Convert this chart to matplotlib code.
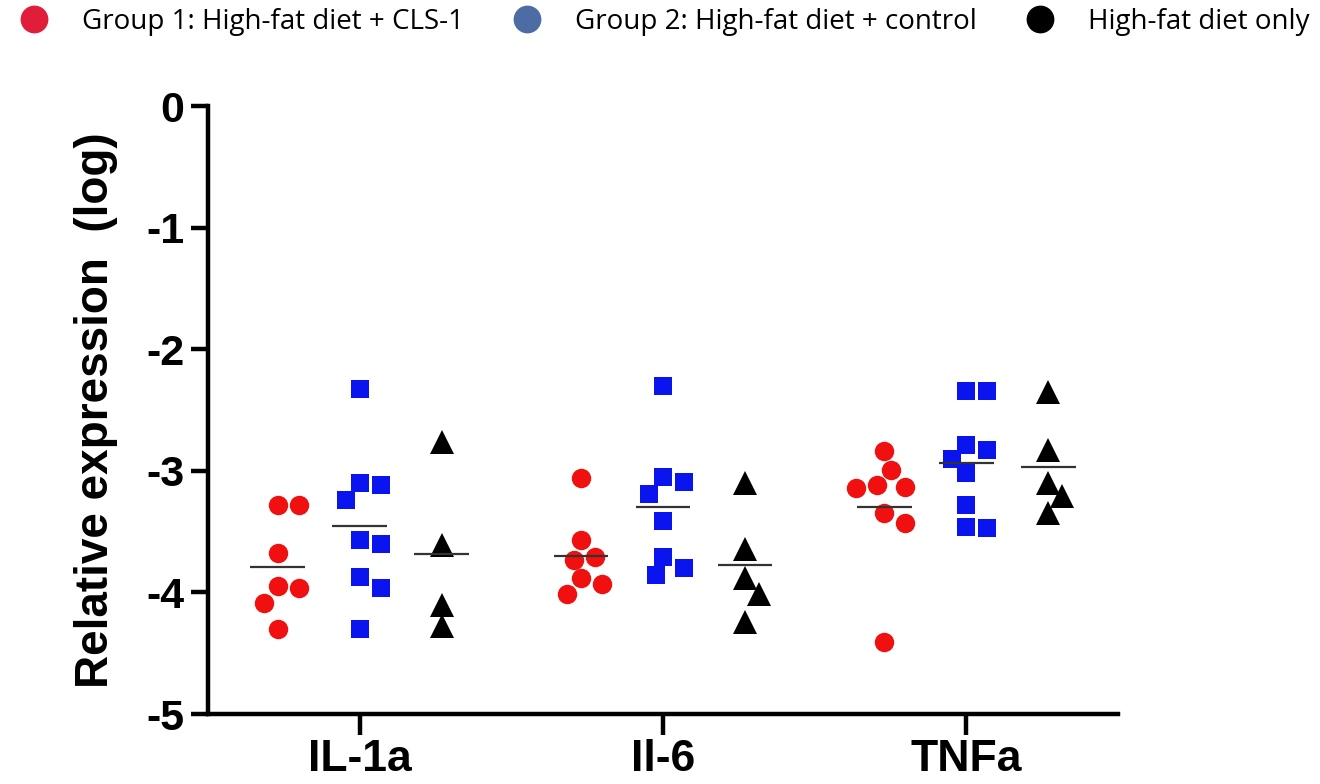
import numpy as np
import matplotlib
matplotlib.use("Agg")
import matplotlib.pyplot as plt
from matplotlib.lines import Line2D

plt.rcParams["axes.unicode_minus"] = False

# ---------------- data ----------------
categories = ["IL-1a", "Il-6", "TNFa"]
group_labels = ["Group 1: High-fat diet + CLS-1",
                "Group 2: High-fat diet + control",
                "High-fat diet only"]

# Group 1 (red circles)
g1_il1a = [-3.28, -3.28, -3.68, -3.95, -3.96, -4.09, -4.30]
g1_il6 = [-3.06, -3.57, -3.71, -3.73, -3.88, -3.93, -4.01]
g1_tnfa = [-2.84, -2.99, -3.13, -3.12, -3.14, -3.35, -3.43, -4.41]

# Group 2 (blue squares)
g2_il1a = [-2.33, -3.12, -3.10, -3.24, -3.60, -3.57, -3.87, -3.96, -4.30]
g2_il6 = [-2.30, -3.09, -3.05, -3.19, -3.41, -3.71, -3.80, -3.86]
g2_tnfa = [-2.34, -2.34, -2.79, -2.83, -2.90, -3.02, -3.28, -3.47, -3.46]

# High-fat diet only (black triangles)
g3_il1a = [-2.76, -3.61, -4.10, -4.28]
g3_il6 = [-3.10, -3.64, -3.88, -4.01, -4.24]
g3_tnfa = [-2.35, -2.83, -3.10, -3.21, -3.35]

groups = [
    [g1_il1a, g1_il6, g1_tnfa],
    [g2_il1a, g2_il6, g2_tnfa],
    [g3_il1a, g3_il6, g3_tnfa],
]

y_ticks = [0, -1, -2, -3, -4, -5]

# ---------------- styles ----------------
point_colors = ["#F01010", "#0A14EE", "#000000"]
legend_colors = ["#E01E3A", "#4E6CA4", "#000000"]
markers = ["o", "s", "^"]
msizes = [14, 13, 17]
dodge = [-0.27, 0.0, 0.27]
bold_family = ["Liberation Sans", "DejaVu Sans"]

W, H, DPI = 1320, 784, 100
fig = plt.figure(figsize=(W / DPI, H / DPI), dpi=DPI)
ax = fig.add_axes([208 / W, 1 - 714 / H, (1118 - 208) / W, (714 - 106) / H])
ax.set_xlim(-0.5, 2.5)
ax.set_ylim(-5, 0)


def swarm_offsets(values, diam_px, step_px):
    trans = ax.transData
    ys = [trans.transform((0, v))[1] for v in values]
    xppu = trans.transform((1, 0))[0] - trans.transform((0, 0))[0]
    placed = []
    offs = [0.0] * len(values)
    order = sorted(range(len(values)), key=lambda i: -values[i])
    for i in order:
        y = ys[i]
        k = 0
        chosen = None
        while chosen is None:
            cands = [0.0] if k == 0 else [k * step_px, -k * step_px]
            for c in cands:
                if all((c - px) ** 2 + (y - py) ** 2 >= diam_px ** 2 for px, py in placed):
                    chosen = c
                    break
            k += 1
        placed.append((chosen, y))
        offs[i] = chosen / xppu
    return offs


for gi, series in enumerate(groups):
    for ci, vals in enumerate(series):
        center = ci + dodge[gi]
        offs = swarm_offsets(vals, 19.0, 7.0)
        xs = [center + o for o in offs]
        ax.plot(xs, vals, linestyle="none", marker=markers[gi],
                markersize=msizes[gi], color=point_colors[gi],
                markeredgewidth=0, zorder=2, clip_on=False)
        m = float(np.mean(vals))
        ax.hlines(m, center - 0.09, center + 0.09, color="#333333",
                  linewidth=1.6, zorder=3)

# axes styling
for s in ["top", "right"]:
    ax.spines[s].set_visible(False)
for s in ["left", "bottom"]:
    ax.spines[s].set_linewidth(3.2)
    ax.spines[s].set_color("black")
ax.set_yticks(y_ticks)
ax.set_yticklabels([str(t) for t in y_ticks])
ax.set_xticks(range(len(categories)))
ax.set_xticklabels(categories)
ax.tick_params(axis="y", length=12, width=3.2, pad=5, labelsize=31)
ax.tick_params(axis="x", length=15, width=3.2, pad=3, labelsize=32)
for lab in ax.get_yticklabels() + ax.get_xticklabels():
    lab.set_fontfamily(bold_family)
    lab.set_fontweight("bold")
ax.set_ylabel("Relative expression  (log)", fontsize=33, fontweight="bold",
              family=bold_family, labelpad=20)

# legend
handles = [Line2D([], [], linestyle="none", marker="o", markersize=20,
                  color=legend_colors[i], markeredgewidth=0)
           for i in range(3)]
fig.legend(handles, group_labels, loc="center left",
           bbox_to_anchor=(20 / W, 1 - 22 / H), ncol=3, frameon=False,
           borderpad=0, borderaxespad=0, handlelength=1.0,
           handletextpad=1.23, columnspacing=1.77,
           prop={"family": ["Open Sans", "DejaVu Sans"], "size": 20})

fig.savefig("out.png", dpi=DPI)
